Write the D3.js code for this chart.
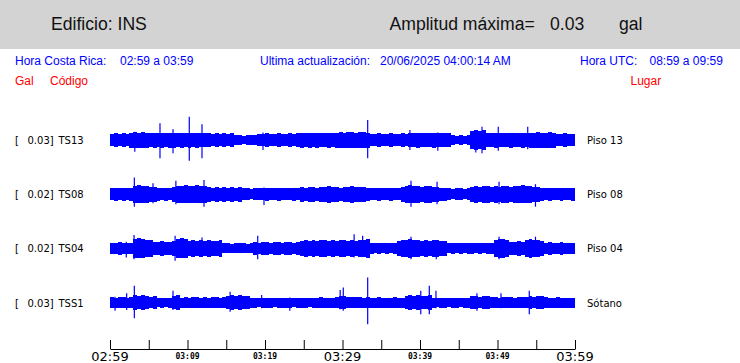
<!DOCTYPE html>
<html>
<head>
<meta charset="utf-8">
<script src="https://cdn.jsdelivr.net/npm/d3@7"></script>
<style>
body { margin: 0; background: #fff; }
svg { display: block; }
</style>
</head>
<body>
<svg id="chart" width="740" height="363"></svg>
<script>

// time axis: minutes after 02:59 (hora Costa Rica)
var tickMinutes = [0, 10, 20, 30, 40, 50, 60]
var tickLabels = ["02:59", "03:09", "03:19", "03:29", "03:39", "03:49", "03:59"]
var tickBig = [true, false, false, true, false, false, true]

var stations = ["TS13", "TS08", "TS04", "TSS1"]
var places = ["Piso 13", "Piso 08", "Piso 04", "Sótano"]
var maxGal = ["0.03", "0.02", "0.02", "0.03"]

// envelope (half amplitude, mGal) every 0.5 min
var ts13Env = [7,8,7,8,7, 9,10,9,10,9, 8,9,8, 9,8,9, 9,8,9,8,9, 8,9,8,8,
  8,7,8,7,8,7,8, 6,6,5,6,6,6, 7,7,8,7,7,8,7,7,8,7, 8,9,8,9,8,9,8,8,9,8,
  9,10,9,10,10,9,10,10,9, 7,7,8,7,7,8,7,7,8,7, 8,8,9,8,8,8,9,8,8,8,8,
  6,5,6,5,6, 11,12,11,12, 8,8,9,8, 8,8,9,8,8,9,8, 9,9,10,9,9,10,9, 7,7,8,7,7]
var ts08Env = [7,8,7,8,7,8, 10,11,10,10,9,9, 8,7,8,7, 9,10,10,11,10,10,11,10,10,
  9,8,9,8,9,8,9,8,9, 7,7,6,7,7,7,8,7,7,8,7,7,7,8,7,
  9,8,9,9,8,9,9,10,9,9,8,9,9,10,9,9,9,8, 7,7,8,7,7,8,7,7,
  9,10,11,10,10,9,10,10,9,9, 8,8, 7,6,7,7,6,7, 9,10,9,10,10,9,10,9,10,
  10,9,10,10,11,10,10,9,9, 8,7,8,7,7,8,7,7,8]
var ts04Env = [7,7,8,7,7,7, 11,12,11,10,10, 8,8,9,8,8,9, 11,12,11, 9,10,9,10,9,10,9,9,10,
  6,6,5,6,6,6,5,6, 8,7,8,8,7,8,8,7,8,8,7,8,
  9,10,9,10,9,10,10,9,10,9,10,10,9,10,9,10,10,11, 7,6,7,6,7,6,7,
  9,10,10,11,10,10,9,10,9,10,10,9,9, 6,7,6,7,6,7,7,6,7,6,7,7,
  10,11,11,10, 8,8,9,8, 10,11,10,10,9, 7,8,7,7,8,7,7,7]
var tss1Env = [7,6,7,7,6,7, 9,8,9,8,7,8, 5,6,5,6, 8,9, 6,7,6,7,7,6,7,6,7,7,6,7,
  8,9,8,9,8,8, 6,6,5,6,6,6,5,6,6,6,6,5,6,6,6,5,6,6,7,6,6,6,
  7,8,8,7,7, 7,7,6,7, 6,6,7,6,6,6,7,6,6, 8,9,8,9,8,8,9,
  6,5,6,6,5,6,6,5,6,6, 8,8,7,8,8, 7,7,6,7,7,7,6,7,7,7, 8,7,8,8,7, 6,6,7,6,6,6,6]

// single peaks: [minute, up mGal, down mGal]
var ts13Spikes = [[3.2,10,14],[6.45,20,22],[8.13,13,16],[10.23,28,25],[11.87,19,22],
  [19.74,9,12],[33.25,24,22],[38.7,12,12],[42.3,9,13],[47.2,12,15],[48,16,16],
  [50.1,16,13],[53.9,16,11]]
var ts08Spikes = [[3.14,20,15],[5.55,13,11],[8.5,16,12],[12.13,17,15],[19.87,8,13],
  [38.84,16,15],[42.2,15,12],[50.2,15,12],[54.9,12,15]]
var ts04Spikes = [[2.1,8,11],[3.1,16,13],[8.4,15,15],[11.87,13,10],[19.06,15,13],
  [31.5,17,11],[32.6,15,10],[38.84,14,13],[42.1,10,13],[50.2,14,13],[54.9,14,10]]
var tss1Spikes = [[0.65,7,10],[2.15,11,9],[3.14,20,19],[8.13,14,9],[15.5,13,11],
  [19.57,9,7],[23.2,6,10],[29.7,15,8],[30.1,18,10],[33.25,30,26],[40.1,14,14],
  [41.2,20,14],[42.06,14,7],[47.35,11,10],[50.45,11,7],[54.1,14,14]]

var envelopes = [ts13Env, ts08Env, ts04Env, tss1Env]
var spikes = [ts13Spikes, ts08Spikes, ts04Spikes, tss1Spikes]
var binMinutes = 0.5

var svg = d3.select("#chart")

var x = d3.scaleLinear().domain([0, 60]).range([110, 575])
var row = d3.scaleLinear().domain([0, 3]).range([140, 302.5])
var amp = d3.scaleLinear().domain([0, 30]).range([0, 25])

// header band
svg.append("rect").attr("x", 0).attr("y", 0).attr("width", 740).attr("height", 49)
    .attr("fill", "#d3d3d3")

var header = svg.append("g")
    .attr("font-family", "'Liberation Sans', Arial, sans-serif")
    .attr("font-size", 17.6).attr("fill", "#111")
header.append("text").attr("x", 51).attr("y", 30).text("Edificio: INS")
header.append("text").attr("x", 389.5).attr("y", 30).text("Amplitud máxima=")
header.append("text").attr("x", 550).attr("y", 30).text("0.03")
header.append("text").attr("x", 619).attr("y", 30).text("gal")

var info = svg.append("g")
    .attr("font-family", "'Liberation Sans', Arial, sans-serif")
    .attr("font-size", 12)
var blue = [["Hora Costa Rica:", 15], ["02:59 a 03:59", 120], ["Ultima actualización:", 260],
  ["20/06/2025 04:00:14 AM", 380], ["Hora UTC:", 580], ["08:59 a 09:59", 649.5]]
info.selectAll("text.blue").data(blue).enter().append("text")
    .attr("class", "blue")
    .attr("x", function(d){ return d[1] }).attr("y", 65)
    .attr("fill", "#0000ff")
    .text(function(d){ return d[0] })
var red = [["Gal", 15], ["Código", 50], ["Lugar", 630.5]]
info.selectAll("text.red").data(red).enter().append("text")
    .attr("class", "red")
    .attr("x", function(d){ return d[1] }).attr("y", 84.5)
    .attr("fill", "#ff0000")
    .text(function(d){ return d[0] })

// traces
stations.forEach(function(name, i){
    var cy = row(i)
    var g = svg.append("g")

    g.selectAll("rect").data(envelopes[i]).enter().append("rect")
        .attr("x", function(d, k){ return x(k * binMinutes) })
        .attr("width", x(binMinutes) - x(0))
        .attr("y", function(d){ return cy - amp(d) })
        .attr("height", function(d){ return 2 * amp(d) })
        .attr("fill", "#0000ff")
        .attr("shape-rendering", "crispEdges")

    g.selectAll("line").data(spikes[i]).enter().append("line")
        .attr("x1", function(d){ return x(d[0]) })
        .attr("x2", function(d){ return x(d[0]) })
        .attr("y1", function(d){ return cy - amp(d[1]) })
        .attr("y2", function(d){ return cy + amp(d[2]) })
        .attr("stroke", "#0000ff").attr("stroke-width", 1.2)

    var lab = svg.append("g")
        .attr("font-family", "'DejaVu Sans', sans-serif")
        .attr("font-size", 10).attr("fill", "#000")
    lab.append("text").attr("x", 15).attr("y", cy + 4).text("[")
    lab.append("text").attr("x", 27.5).attr("y", cy + 4).text(maxGal[i] + "]")
    lab.append("text").attr("x", 58.5).attr("y", cy + 4).text(name)
    lab.append("text").attr("x", 587).attr("y", cy + 4).text(places[i])
})

// time axis
var axis = d3.axisBottom(x)
    .tickValues(d3.range(0, 61, 5))
    .tickSize(-9)
    .tickSizeOuter(0)
    .tickFormat("")
var ax = svg.append("g").attr("transform", "translate(0,349)").call(axis)
ax.selectAll("path, line").attr("stroke", "#000")

svg.selectAll("text.tick-label").data(tickMinutes).enter().append("text")
    .attr("class", "tick-label")
    .attr("x", function(d){ return x(d) })
    .attr("y", function(d, i){ return tickBig[i] ? 361 : 358.5 })
    .attr("text-anchor", "middle")
    .attr("font-family", function(d, i){ return tickBig[i] ? "'DejaVu Sans', sans-serif" : "'DejaVu Sans Mono', monospace" })
    .attr("font-weight", function(d, i){ return tickBig[i] ? "normal" : "bold" })
    .attr("font-size", function(d, i){ return tickBig[i] ? 13 : 8 })
    .text(function(d, i){ return tickLabels[i] })

</script>
</body>
</html>
